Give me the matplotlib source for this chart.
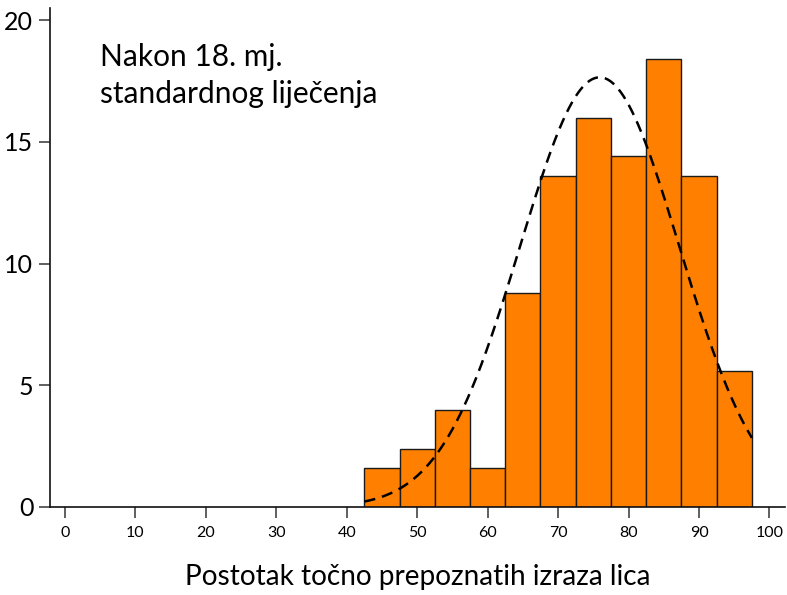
import numpy as np
import matplotlib.pyplot as plt

# histogram: bin edges and relative frequencies (%)
bin_edges = [42.5, 47.5, 52.5, 57.5, 62.5, 67.5, 72.5, 77.5, 82.5, 87.5, 92.5, 97.5]
freq = [1.6, 2.4, 4.0, 1.6, 8.8, 13.6, 16.0, 14.4, 18.4, 13.6, 5.6]

# fitted normal curve parameters
mu = 75.9
sigma = 11.3

x_ticks = [0, 10, 20, 30, 40, 50, 60, 70, 80, 90, 100]
y_ticks = [0, 5, 10, 15, 20]

plt.rcParams['font.family'] = ['Lato', 'DejaVu Sans']

fig = plt.figure(figsize=(7.87, 5.95), dpi=100)
ax = fig.add_axes([50 / 787, 88 / 595, 735 / 787, 499 / 595])

left = np.array(bin_edges[:-1])
width = np.diff(bin_edges)
ax.bar(left, freq, width=width, align='edge', color='#FF8000',
       edgecolor='#1a1a1a', linewidth=1.0)

# normal density scaled to percent per bin width
xs = np.linspace(bin_edges[0], bin_edges[-1], 300)
bw = bin_edges[1] - bin_edges[0]
ys = 100 * bw / (sigma * np.sqrt(2 * np.pi)) * np.exp(-0.5 * ((xs - mu) / sigma) ** 2)
ax.plot(xs, ys, color='black', linestyle=(0, (4.5, 2.8)), linewidth=1.8)

ax.set_xlim(-2.1, 102.2)
ax.set_ylim(0, 20.5)
ax.set_xticks(x_ticks)
ax.set_yticks(y_ticks)
ax.tick_params(axis='x', labelsize=11.5, length=8, width=1.2, color='#444444', pad=6)
ax.tick_params(axis='y', labelsize=18, length=8, width=1.2, color='#444444', pad=4)

for s in ['top', 'right']:
    ax.spines[s].set_visible(False)
for s in ['left', 'bottom']:
    ax.spines[s].set_linewidth(1.2)
    ax.spines[s].set_color('#111111')

ax.text(0.068, 0.93, 'Nakon 18. mj.\nstandardnog liječenja', transform=ax.transAxes,
        fontsize=21.5, va='top', ha='left', linespacing=1.4)

ax.set_xlabel('Postotak točno prepoznatih izraza lica', fontsize=20.2, labelpad=17)

fig.savefig('out.png', dpi=100)
